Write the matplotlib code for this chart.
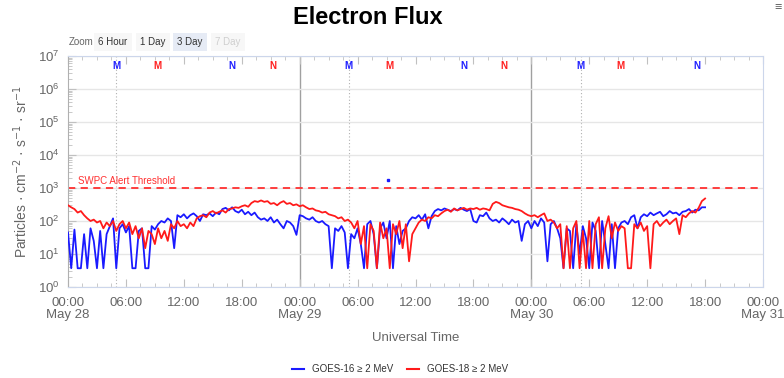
import numpy as np
import matplotlib
matplotlib.use('Agg')
import matplotlib.pyplot as plt
from matplotlib.ticker import FixedLocator, LogLocator, NullFormatter
from matplotlib.lines import Line2D

plt.rcParams['font.family'] = ['Liberation Sans', 'DejaVu Sans']

# Electron flux, 20-minute samples from May 28 00:00 UT (one row = one hour)
step_hours = 1 / 3
goes16 = [
    45, 3.7, 55,   3.7, 3.7, 40,   3.7, 60, 25,   3.7, 50, 3.7,
    40, 70, 120,   3.7, 60, 80,    45, 70, 3.7,   3.7, 50, 60,
    3.7, 3.7, 70,  55, 80, 100,    90, 120, 100,  15, 150, 130,
    160, 120, 150, 170, 140, 100,  160, 150, 170, 140, 180, 160,
    230, 250, 210, 260, 200, 180,  220, 160, 190, 150, 180, 130,
    110, 120, 100, 130, 90, 110,   80, 60, 100,   90, 70, 38,
    150, 140, 120, 110, 130, 100,  90, 100, 80,   70, 3.7, 60,
    50, 70, 45,    3.7, 40, 30,    60, 20, 3.7,   80, 100, 40,
    3.7, 60, 90,   30, 100, 3.7,   70, 20, 50,    60, 100, 130,
    120, 150, 110, 160, 60, 140,   200, 230, 210, 240, 220, 200,
    230, 210, 250, 220, 200, 230,  100, 90, 150,  140, 180, 120,
    100, 110, 90,  120, 100, 80,   110, 90, 100,  25, 80, 100,
    60, 100, 70,   120, 90, 6,     80, 100, 60,   30, 3.7, 60,
    50, 3.7, 80,   10, 70, 30,     3.7, 90, 50,   3.7, 100, 20,
    3.7, 80, 3.7,  60, 90, 100,    80, 130, 150,  60, 130, 160,
    140, 180, 150, 170, 190, 140,  160, 200, 170, 180, 150, 190,
    200, 230, 180, 220, 210, 260,
    260,
]
goes18 = [
    300, 260, 230, 180, 200, 150,  120, 100, 110, 90, 100, 60,
    90, 70, 100,   50, 80, 100,    60, 90, 40,    70, 30, 60,
    15, 50, 40,    20, 60, 30,     50, 25, 80,    60, 100, 70,
    80, 60, 90,    70, 120, 140,   150, 130, 180, 200, 170, 190,
    210, 180, 230, 240, 260, 250,  280, 300, 270, 350, 400, 380,
    420, 380, 400, 330, 350, 300,  360, 400, 330, 350, 300, 320,
    280, 300, 260, 230, 240, 210,  200, 180, 190, 160, 150, 140,
    120, 130, 100, 110, 90, 60,    100, 20, 70,   3.7, 80, 50,
    3.7, 90, 30,   60, 3.7, 80,    40, 100, 15,   80, 6, 40,
    60, 90, 110,   100, 130, 120,  150, 140, 170, 200, 220, 190,
    240, 210, 230, 250, 220, 240,  230, 250, 220, 240, 230, 210,
    330, 380, 350, 300, 280, 260,  250, 230, 220, 200, 170, 150,
    140, 150, 130, 150, 170, 100,  110, 90, 60,   80, 3.7, 70,
    3.7, 60, 100,  3.7, 50, 3.7,   100, 3.7, 80,  130, 3.7, 60,
    140, 30, 90,   50, 70, 60,     3.7, 3.7, 80,  60, 90, 50,
    70, 3.7, 80,   100, 70, 90,    110, 80, 100,  120, 40, 150,
    130, 170, 200, 180, 250, 400,
    480,
]
hours = np.arange(len(goes16)) * step_hours

# lone GOES-16 point near May 29 09:00
stray_hour = 33.2
stray_value = 1750

threshold = 1000

# magnetopause / noon markers along the top of the plot
marker_hours = [5.0, 9.25, 17.0, 21.2, 29.1, 33.25, 41.0, 45.2, 53.1, 57.25, 65.1]
marker_labels = ['M', 'M', 'N', 'N', 'M', 'M', 'N', 'N', 'M', 'M', 'N']
marker_colors = ['#2020ff', '#ff2020', '#2020ff', '#ff2020', '#2020ff', '#ff2020',
                 '#2020ff', '#ff2020', '#2020ff', '#ff2020', '#2020ff']
dotted_hours = [5.0, 29.1, 53.1]
day_hours = [24, 48]

xtick_hours = [0, 6, 12, 18, 24, 30, 36, 42, 48, 54, 60, 66, 72]
xtick_labels = ['00:00', '06:00', '12:00', '18:00'] * 3 + ['00:00']
date_hours = [0, 24, 48, 72]
date_labels = ['May 28', 'May 29', 'May 30', 'May 31']

grey = '#666666'
fig = plt.figure(figsize=(7.84, 3.78), dpi=100)
ax = fig.add_axes([68 / 784, 1 - 287 / 378, (763 - 68) / 784, (287 - 56) / 378])

ax.set_yscale('log')
ax.set_ylim(1, 1e7)
ax.set_xlim(0, 72)

ax.yaxis.set_major_locator(LogLocator(base=10, numticks=10))
ax.yaxis.set_minor_locator(LogLocator(base=10, subs=np.arange(2, 10), numticks=100))
ax.yaxis.set_minor_formatter(NullFormatter())
ax.grid(True, axis='y', which='major', color='#e6e6e6', lw=1)

ax.xaxis.set_major_locator(FixedLocator(xtick_hours))
ax.set_xticklabels(xtick_labels)
ax.xaxis.set_minor_locator(FixedLocator(np.arange(0, 73, 1.5)))
ax.xaxis.set_minor_formatter(NullFormatter())

for h, lab in zip(date_hours, date_labels):
    ax.text(h, -0.123, lab, color=grey, fontsize=9.5, ha='center', va='center',
            transform=ax.get_xaxis_transform())

for h in day_hours:
    ax.axvline(h, color='#a0a0a0', lw=1, zorder=1)
for h in dotted_hours:
    ax.axvline(h, color='#b0b0b0', lw=0.8, ls=(0, (1, 2)), zorder=1)

ax.plot(hours, goes16, color='#1a1aff', lw=1.3, zorder=3)
ax.plot(hours, goes18, color='#ff1a1a', lw=1.3, zorder=3)
ax.plot([stray_hour], [stray_value], 's', color='#1a1aff', ms=1.5, zorder=3)

ax.axhline(threshold, color='#ff3030', lw=1.3, ls=(0, (4, 3)), zorder=2)
ax.text(1, threshold * 1.12, 'SWPC Alert Threshold', color='#ff3030', fontsize=7, va='bottom')

for h, lab, c in zip(marker_hours, marker_labels, marker_colors):
    ax.text(h, 0.955, lab, color=c, fontsize=7, fontweight='bold', ha='center', va='center',
            transform=ax.get_xaxis_transform())

for side in ['top', 'bottom', 'right']:
    ax.spines[side].set_color('#ccd6eb')
ax.spines['left'].set_color('#b0b0b0')
ax.tick_params(axis='both', which='both', direction='in', colors='#c0c0c0',
               labelcolor=grey, top=True)
ax.tick_params(axis='x', which='major', length=6, labelsize=9.5, pad=7)
ax.tick_params(axis='x', which='minor', length=3)
ax.tick_params(axis='y', which='major', length=6, labelsize=9.5, pad=6)
ax.tick_params(axis='y', which='minor', length=3)

ax.set_xlabel('Universal Time', color=grey, fontsize=9.5, labelpad=17)
ax.set_ylabel('Particles · cm$^{-2}$ · s$^{-1}$ · sr$^{-1}$', color=grey, fontsize=10, labelpad=6)

fig.text(368 / 784, 1 - 18 / 378, 'Electron Flux', fontsize=17, fontweight='bold',
         ha='center', va='center', color='black')
fig.text(778 / 784, 1 - 8 / 378, '≡', fontsize=9, ha='center', va='center', color='#666666')

# range selector buttons
fig.text(69 / 784, 1 - 42 / 378, 'Zoom', fontsize=7, color='#666666', va='center')
buttons = ['6 Hour', '1 Day', '3 Day', '7 Day']
button_x = [98, 140, 177, 215]
for lab, bx in zip(buttons, button_x):
    face = '#e6ebf5' if lab == '3 Day' else '#f7f7f7'
    col = '#cfcfcf' if lab == '7 Day' else '#333333'
    fig.text(bx / 784, 1 - 42 / 378, lab, fontsize=7, color=col, va='center',
             bbox=dict(boxstyle='square,pad=0.45', fc=face, ec='none'))

handles = [Line2D([], [], color='#1a1aff', lw=1.5), Line2D([], [], color='#ff1a1a', lw=1.5)]
fig.legend(handles, ['GOES-16 ≥ 2 MeV', 'GOES-18 ≥ 2 MeV'], loc='center',
           bbox_to_anchor=(400 / 784, 1 - 369 / 378), ncol=2, frameon=False,
           fontsize=7, handlelength=1.2, columnspacing=1.5, labelcolor='#333333')

fig.savefig('out.png', dpi=100)
